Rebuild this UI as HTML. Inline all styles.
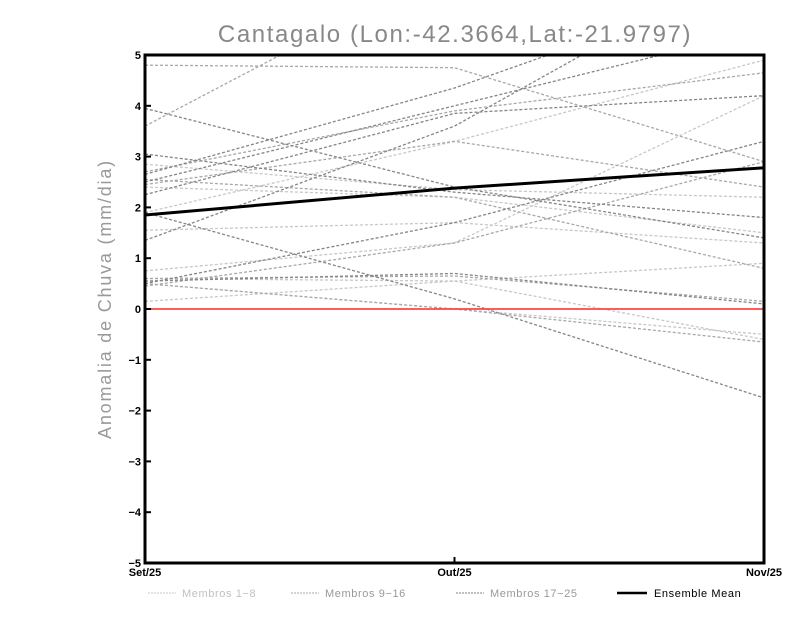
<!DOCTYPE html>
<html><head><meta charset="utf-8"><style>
body{margin:0;background:#fff;width:800px;height:618px;overflow:hidden}
svg{display:block}
</style></head><body>
<svg id="chart" width="800" height="618" font-family="Liberation Sans, sans-serif">
<defs><clipPath id="pc"><rect x="145" y="55" width="619" height="508"/></clipPath></defs>
<text x="455" y="42" text-anchor="middle" font-size="24" letter-spacing="1.6" fill="#888">Cantagalo (Lon:-42.3664,Lat:-21.9797)</text>
<text transform="translate(111,299) rotate(-90)" text-anchor="middle" font-size="18" letter-spacing="1.8" fill="#999">Anomalia de Chuva (mm/dia)</text>
<g id="members" clip-path="url(#pc)"></g>
<g id="axes"></g>
</svg>
<script>
const months = ["Set/25","Out/25","Nov/25"];
const yTicks = [-5,-4,-3,-2,-1,0,1,2,3,4,5];
const members1to8 = [[1.9,3.3,4.9],[2.85,2.35,2.2],[1.55,1.7,1.3],[0.75,1.3,4.2],[0.15,0.55,0.9],[0.6,0.55,-0.6],[2.4,2.2,1.5],[0.5,0.0,-0.5]];
const members9to16 = [[3.6,6.8,9],[4.8,4.75,2.9],[2.45,3.3,2.4],[2.7,3.9,4.65],[0.45,1.3,2.9],[2.55,2.2,0.8],[0.5,0.0,-0.65],[0.6,0.65,0.15]];
const members17to25 = [[3.95,2.4,1.4],[2.65,4.35,6.5],[2.5,4.0,5.5],[1.35,3.6,7],[1.9,0.2,-1.75],[0.5,1.7,3.3],[3.05,2.3,1.8],[2.25,3.85,4.2],[0.55,0.7,0.1]];
const ensembleMean = [1.85,2.38,2.78];
const ns="http://www.w3.org/2000/svg";
const X0=145,X1=764,Y0=55,Y1=563;
function xs(i){return X0+(X1-X0)*i/(months.length-1);}
function ys(v){return Y1-(v+5)/10*(Y1-Y0);}
function el(t,a,p){const e=document.createElementNS(ns,t);for(const k in a)e.setAttribute(k,a[k]);p.appendChild(e);return e;}
const mg=document.getElementById('members');
function pts(d){return d.map((v,i)=>xs(i)+","+ys(v)).join(" ");}
[[members1to8,"#c8c8c8"],[members9to16,"#a8a8a8"],[members17to25,"#858585"]].forEach(([grp,c],gi)=>{
 grp.forEach((d,j)=>{
  const l=el('polyline',{points:pts(d),fill:'none',stroke:c,'stroke-width':1.3,'stroke-dasharray':'3,2'},mg);
  
  
 });
});
const z=el('line',{x1:X0,x2:X1,y1:ys(0),y2:ys(0),stroke:'#ff4444','stroke-width':1.8},mg);


const m=el('polyline',{points:pts(ensembleMean),fill:'none',stroke:'#000','stroke-width':3},mg);


const ax=document.getElementById('axes');
const fr=el('rect',{x:X0,y:Y0,width:X1-X0,height:Y1-Y0,fill:'none',stroke:'#000','stroke-width':3},ax);


yTicks.forEach(v=>{
 el('line',{x1:X0,x2:X0+6,y1:ys(v),y2:ys(v),stroke:'#000','stroke-width':2},ax);
 const t=el('text',{x:X0-4,y:ys(v)+4,'text-anchor':'end','font-size':11,'font-weight':'bold',fill:'#000'},ax);
 t.textContent=String(v).replace('-','\u2212');
 
 
});
months.forEach((mo,i)=>{
 el('line',{x1:xs(i),x2:xs(i),y1:Y1,y2:Y1-6,stroke:'#000','stroke-width':2},ax);
 const t=el('text',{x:xs(i),y:Y1+13,'text-anchor':'middle','font-size':11,'font-weight':'bold',fill:'#000'},ax);
 t.textContent=mo;
 
 
});
const leg=[["Membros 1\u22128","#c8c8c8",148,false],["Membros 9\u221216","#a8a8a8",291,false],["Membros 17\u221225","#858585",456,false],["Ensemble Mean","#000",617,true]];
leg.forEach(([lab,c,x,mean])=>{
 const g=el('g',{},ax);
 
 
 el('line',{x1:x,x2:x+(mean?30:28),y1:593,y2:593,stroke:c,'stroke-width':mean?2.5:1,'stroke-dasharray':mean?'none':'2,1'},g);
 const t=el('text',{x:x+(mean?37:34),y:597,'font-size':11,'letter-spacing':0.6,fill:mean?'#000':(c=="#c8c8c8"?'#c0c0c0':'#999')},g);
 t.textContent=lab;
});
</script>
</body></html>
